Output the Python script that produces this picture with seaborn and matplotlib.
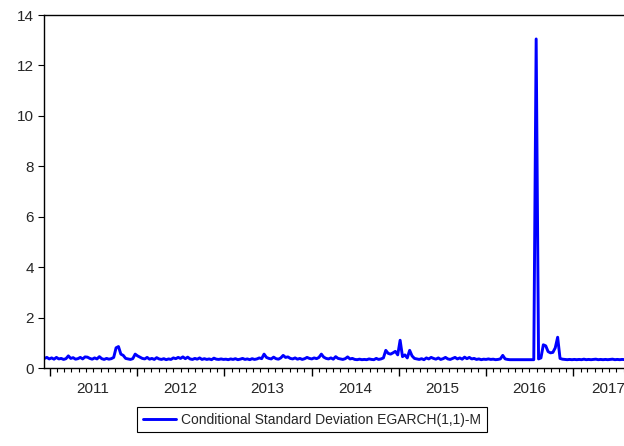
import pandas as pd
import matplotlib
matplotlib.use("Agg")
import matplotlib.pyplot as plt
import matplotlib.dates as mdates
import matplotlib.transforms as mtransforms
import seaborn as sns

# Valores (uno cada 10 dias desde 2010-12-09)
start_date = "2010-12-09"
step = "10D"

v_2010 = [0.38, 0.42, 0.36]
v_2011 = [0.40, 0.35, 0.42, 0.36, 0.38, 0.34, 0.37, 0.48, 0.38, 0.41,
          0.35, 0.37, 0.42, 0.36, 0.44, 0.43, 0.38, 0.35, 0.40, 0.36,
          0.45, 0.37, 0.34, 0.38, 0.35, 0.37, 0.42, 0.80, 0.85, 0.55,
          0.50, 0.38, 0.36, 0.34, 0.37, 0.55]
v_2012 = [0.48, 0.43, 0.38, 0.36, 0.42, 0.35, 0.38, 0.34, 0.41, 0.36,
          0.34, 0.37, 0.33, 0.36, 0.34, 0.40, 0.37, 0.42, 0.38, 0.44,
          0.37, 0.43, 0.36, 0.34, 0.38, 0.35, 0.40, 0.34, 0.37, 0.34,
          0.36, 0.33, 0.39, 0.35, 0.34, 0.36, 0.34]
v_2013 = [0.35, 0.33, 0.36, 0.34, 0.37, 0.33, 0.35, 0.38, 0.34, 0.36,
          0.33, 0.37, 0.34, 0.36, 0.40, 0.37, 0.55, 0.42, 0.38, 0.36,
          0.43, 0.37, 0.35, 0.40, 0.50, 0.42, 0.44, 0.38, 0.36, 0.40,
          0.35, 0.38, 0.34, 0.37, 0.42, 0.38, 0.36]
v_2014 = [0.40, 0.37, 0.42, 0.55, 0.43, 0.38, 0.36, 0.40, 0.35, 0.45,
          0.38, 0.36, 0.34, 0.37, 0.44, 0.36, 0.38, 0.34, 0.33, 0.35,
          0.33, 0.34, 0.33, 0.36, 0.34, 0.33, 0.38, 0.34, 0.36, 0.40,
          0.70, 0.58, 0.55, 0.60, 0.66, 0.52]
v_2015 = [1.10, 0.45, 0.52, 0.40, 0.70, 0.48, 0.38, 0.36, 0.34, 0.37,
          0.33, 0.40, 0.36, 0.42, 0.38, 0.35, 0.40, 0.34, 0.37, 0.42,
          0.36, 0.34, 0.38, 0.42, 0.36, 0.40, 0.35, 0.43, 0.37, 0.42,
          0.36, 0.38, 0.34, 0.36, 0.33, 0.35]
v_2016 = [0.34, 0.36, 0.34, 0.35, 0.33, 0.34, 0.36, 0.50, 0.36, 0.34,
          0.33, 0.33, 0.33, 0.33, 0.33, 0.33, 0.33, 0.33, 0.33, 0.33,
          0.33, 13.05, 0.36, 0.40, 0.92, 0.88, 0.65, 0.60, 0.62, 0.80,
          1.22, 0.38, 0.35, 0.34, 0.33, 0.34, 0.33]
v_2017 = [0.34, 0.33, 0.34, 0.33, 0.35, 0.33, 0.34, 0.33, 0.34, 0.35,
          0.33, 0.34, 0.33, 0.34, 0.33, 0.34, 0.35, 0.33, 0.34, 0.33,
          0.34, 0.33, 0.34, 0.33]

serie = "Conditional Standard Deviation EGARCH(1,1)-M"
valores = v_2010 + v_2011 + v_2012 + v_2013 + v_2014 + v_2015 + v_2016 + v_2017
fechas = pd.date_range(start_date, periods=len(valores), freq=step)
df = pd.DataFrame({"fecha": fechas, "sd": valores})

sns.set_style("ticks")
plt.rcParams["font.family"] = ["Liberation Sans", "DejaVu Sans"]

fig = plt.figure(figsize=(6.24, 4.46), dpi=100)
ax = fig.add_axes([44 / 624, 78 / 446, 580 / 624, 353 / 446])

sns.lineplot(data=df, x="fecha", y="sd", ax=ax, color="#0000ff",
             linewidth=2.1, label=serie)

ax.set_xlim(pd.Timestamp("2010-12-07"), pd.Timestamp("2017-08-02"))
ax.set_ylim(0, 14)
ax.set_yticks(range(0, 15, 2))
ax.set_xlabel("")
ax.set_ylabel("")

# ticks del eje x: anio (largo), mes (corto), etiqueta a mitad de anio
ax.xaxis.set_major_locator(mdates.YearLocator())
ax.xaxis.set_major_formatter(plt.NullFormatter())
ax.xaxis.set_minor_locator(mdates.MonthLocator())
ax.xaxis.set_minor_formatter(plt.FuncFormatter(
    lambda x, pos: mdates.num2date(x).strftime("%Y") if mdates.num2date(x).month == 7 else ""))
ax.tick_params(axis="x", which="major", direction="out", length=5.5, width=1, color="black")
ax.tick_params(axis="x", which="minor", direction="out", length=3, width=0.8,
               color="black", pad=7, labelsize=11)
ax.tick_params(axis="y", direction="out", length=4.3, width=0.8, pad=3, labelsize=11,
               color="black")

# la ultima etiqueta (2017) va un poco a la izquierda, como en el original
fig.canvas.draw()
shift = mtransforms.ScaledTranslation(-6 / 72, 0, fig.dpi_scale_trans)
for lab in ax.xaxis.get_minorticklabels():
    if lab.get_text() == "2017":
        lab.set_transform(lab.get_transform() + shift)

for s in ["left", "top", "bottom"]:
    ax.spines[s].set_color("black")
    ax.spines[s].set_linewidth(1.0)
ax.spines["right"].set_visible(False)

ax.legend(loc="upper center", bbox_to_anchor=(0.5, 39 / 446), bbox_transform=fig.transFigure,
          fontsize=10, frameon=True, fancybox=False, edgecolor="black", framealpha=1,
          handlelength=2.4, handletextpad=0.35, borderpad=0.4, borderaxespad=0)
ax.get_legend().get_frame().set_linewidth(0.8)

fig.savefig("out.png", dpi=100)
